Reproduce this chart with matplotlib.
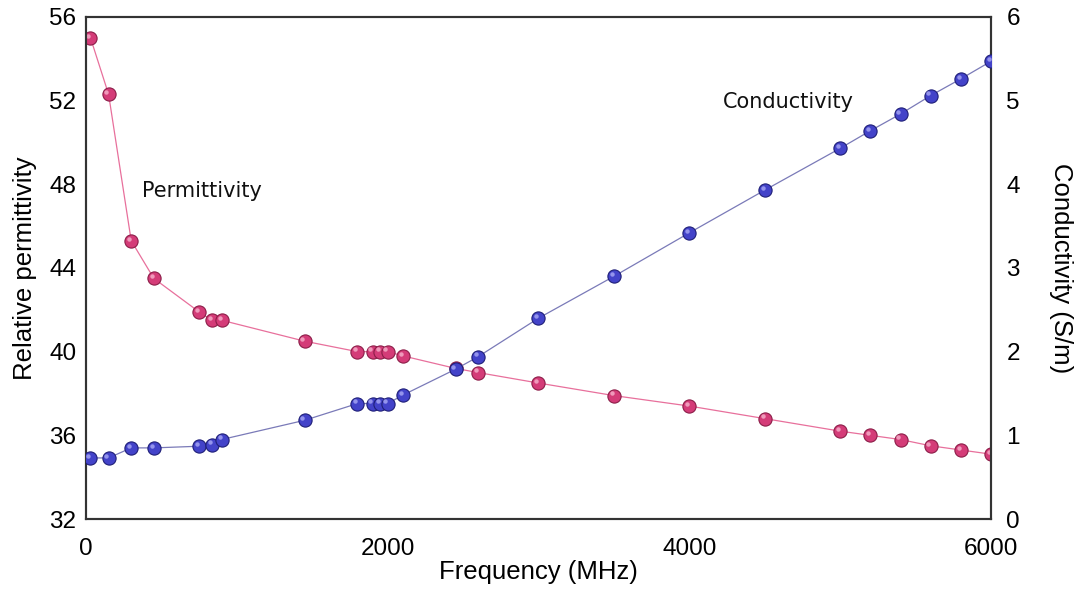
import matplotlib
matplotlib.use("Agg")
import matplotlib.pyplot as plt
from matplotlib.transforms import offset_copy

# Frequencies (MHz) shared by both series
freq = [30, 150, 300, 450, 750, 835, 900, 1450, 1800, 1900, 1950, 2000, 2100,
        2450, 2600, 3000, 3500, 4000, 4500, 5000, 5200, 5400, 5600, 5800, 6000]

permittivity = [55.0, 52.3, 45.3, 43.5, 41.9, 41.5, 41.5, 40.5, 40.0, 40.0, 40.0, 40.0, 39.8,
                39.2, 39.0, 38.5, 37.9, 37.4, 36.8, 36.2, 36.0, 35.8, 35.5, 35.3, 35.1]

conductivity = [0.73, 0.73, 0.85, 0.85, 0.87, 0.89, 0.95, 1.18, 1.38, 1.38, 1.38, 1.38, 1.48,
                1.79, 1.94, 2.40, 2.90, 3.42, 3.93, 4.43, 4.64, 4.84, 5.06, 5.26, 5.47]

perm_ticks = [32, 36, 40, 44, 48, 52, 56]
cond_ticks = [0, 1, 2, 3, 4, 5, 6]
freq_ticks = [0, 2000, 4000, 6000]

TICK_FONT = "Liberation Sans"
SPINE = "#333333"


def sphere_series(ax, x, y, line_col, face, edge, light):
    # thin line + shaded "ball" markers (base ball, then a small highlight up-left)
    ax.plot(x, y, color=line_col, linewidth=0.9, zorder=2)
    ax.plot(x, y, linestyle="none", marker="o", markersize=9.5,
            markerfacecolor=face, markeredgecolor=edge, markeredgewidth=0.8, zorder=3)
    hl = offset_copy(ax.transData, fig=ax.figure, x=-1.6, y=1.6, units="points")
    ax.plot(x, y, linestyle="none", marker="o", markersize=3.2, transform=hl,
            markerfacecolor=light, markeredgecolor="none", alpha=0.8, zorder=4)


fig = plt.figure(figsize=(10.8, 5.9), dpi=100)
ax1 = fig.add_axes([0.0796, 0.1203, 0.838, 0.851])
ax2 = ax1.twinx()

sphere_series(ax1, freq, permittivity, "#e8709c", "#d43c78", "#8c1d48", "#f7b3cd")
sphere_series(ax2, freq, conductivity, "#7a7ab8", "#4343c9", "#1f1f78", "#a9a9f5")

ax1.set_xlim(0, 6000)
ax1.set_ylim(32, 56)
ax2.set_ylim(0, 6)
ax1.set_xticks(freq_ticks)
ax1.set_yticks(perm_ticks)
ax2.set_yticks(cond_ticks)

for ax in (ax1, ax2):
    for sp in ax.spines.values():
        sp.set_color(SPINE)
        sp.set_linewidth(1.5)
    for lab in ax.get_xticklabels() + ax.get_yticklabels():
        lab.set_fontfamily(TICK_FONT)
        lab.set_fontsize(17.5)

ax1.tick_params(axis="x", length=0, pad=14)
ax1.tick_params(axis="y", length=0, pad=7)
ax2.tick_params(axis="y", length=0, pad=11)

ax1.set_xlabel("Frequency (MHz)", fontfamily=TICK_FONT, fontsize=18.5, labelpad=0)
ax1.set_ylabel("Relative permittivity", fontfamily=TICK_FONT, fontsize=18.5, labelpad=9)
ax2.set_ylabel("Conductivity (S/m)", fontfamily=TICK_FONT, fontsize=18.5,
               rotation=270, labelpad=38)

ax1.text(369, 47.7, "Permittivity", fontfamily="DejaVu Sans", fontsize=15,
         ha="left", va="center", color="#111111")
ax2.text(4222, 4.98, "Conductivity", fontfamily="DejaVu Sans", fontsize=15,
         ha="left", va="center", color="#111111")

fig.savefig("out.png", dpi=100)
